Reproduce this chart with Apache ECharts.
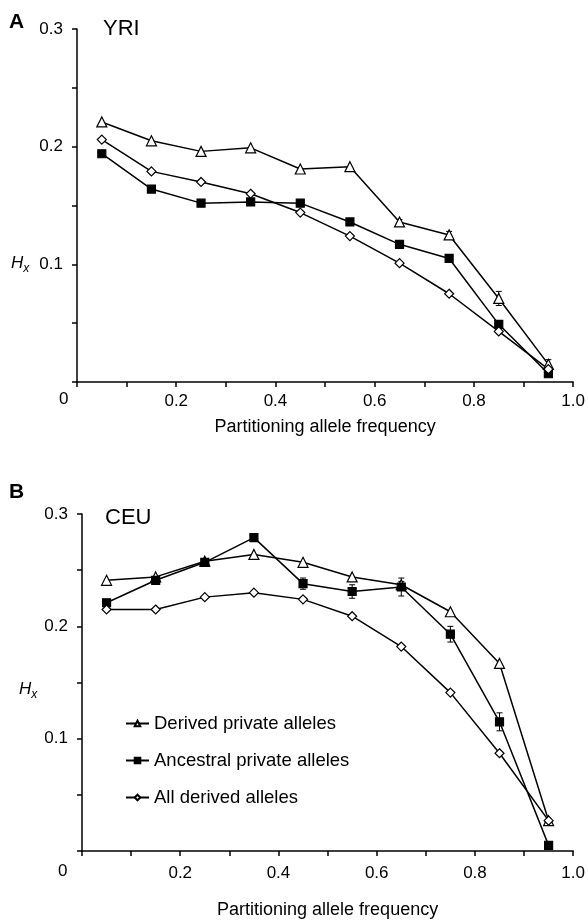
<!DOCTYPE html>
<html><head><meta charset="utf-8">
<script src="https://cdn.jsdelivr.net/npm/echarts@6/dist/echarts.min.js"></script>
<style>html,body{margin:0;padding:0;background:#fff}#c{width:588px;height:920px}</style>
</head><body><div id="c"></div>
<script>
const xVals = [0.05,0.15,0.25,0.35,0.45,0.55,0.65,0.75,0.85,0.95];
const xTickLabels = ['0.2','0.4','0.6','0.8','1.0'];
const seriesNames = ['Derived private alleles','Ancestral private alleles','All derived alleles'];
// Panel A (YRI)
const yriDerived   = [0.221,0.205,0.196,0.199,0.181,0.183,0.136,0.125,0.071,0.015];
const yriAncestral = [0.194,0.164,0.152,0.153,0.152,0.136,0.117,0.105,0.049,0.007];
const yriAll       = [0.206,0.179,0.170,0.160,0.144,0.124,0.101,0.075,0.043,0.011];
const yriDerivedErr   = [0,0,0,0,0,0,0.002,0.003,0.006,0.004];
const yriAncestralErr = [0,0,0,0,0,0,0,0,0.002,0.002];
// Panel B (CEU)
const ceuDerived   = [0.241,0.244,0.258,0.264,0.257,0.244,0.237,0.213,0.167,0.027];
const ceuAncestral = [0.221,0.241,0.257,0.279,0.238,0.231,0.235,0.193,0.115,0.005];
const ceuAll       = [0.215,0.215,0.226,0.230,0.224,0.209,0.182,0.141,0.087,0.027];
const ceuDerivedErr   = [0,0,0,0,0,0,0.003,0,0,0];
const ceuAncestralErr = [0,0,0,0,0.005,0.006,0.008,0.007,0.008,0];

const chart = echarts.init(document.getElementById('c'));
const FONT = 'Liberation Sans, Arial, sans-serif';
const pts = a => xVals.map((x,i)=>[x,a[i]]);
const errPts = (a,e) => xVals.map((x,i)=>[x,a[i],e[i]]).filter(d=>d[2]>0);

function xAxis(gi,margin,nameGap){
  return {gridIndex:gi,type:'value',min:0,max:1,interval:0.1,
    axisLine:{lineStyle:{color:'#000',width:1.5}},
    axisTick:{inside:false,length:5,lineStyle:{color:'#000',width:1.5}},
    splitLine:{show:false},
    axisLabel:{color:'#000',fontSize:17,fontFamily:FONT,margin:margin,
      formatter:v=>{const k=Math.round(v*10); if(k>0 && k%2===0) return xTickLabels[k/2-1]; return '';}},
    name:'Partitioning allele frequency',nameLocation:'middle',nameGap:nameGap,
    nameTextStyle:{color:'#000',fontSize:18,fontFamily:FONT}};
}
function yAxis(gi){
  return {gridIndex:gi,type:'value',min:0,max:0.3,interval:0.05,
    axisLine:{show:true,lineStyle:{color:'#000',width:1.5}},
    axisTick:{show:true,inside:false,length:5,lineStyle:{color:'#000',width:1.5}},
    splitLine:{show:false},
    axisLabel:{color:'#000',fontSize:17,fontFamily:FONT,margin:14,
      formatter:v=>{const k=Math.round(v*20); if(k>0 && k%2===0) return (k/20).toFixed(1); return '';}}};
}
function line(name,data,gi,sym,fill,size){
  return {name,type:'line',xAxisIndex:gi,yAxisIndex:gi,data:pts(data),
    symbol:sym,symbolSize:size,showSymbol:true,
    lineStyle:{color:'#000',width:1.5},
    itemStyle:{color:fill,borderColor:'#000',borderWidth:1.2},
    emphasis:{disabled:true},z:3};
}
function errSeries(data,err,gi){
  return {type:'custom',xAxisIndex:gi,yAxisIndex:gi,data:errPts(data,err),z:2,silent:true,
    renderItem:(params,api)=>{
      const x=api.value(0),y=api.value(1),e=api.value(2);
      const p1=api.coord([x,y+e]),p2=api.coord([x,y-e]);
      const w=3;
      return {type:'group',children:[
        {type:'line',shape:{x1:p1[0],y1:p1[1],x2:p2[0],y2:p2[1]},style:{stroke:'#000',lineWidth:1}},
        {type:'line',shape:{x1:p1[0]-w,y1:p1[1],x2:p1[0]+w,y2:p1[1]},style:{stroke:'#000',lineWidth:1}},
        {type:'line',shape:{x1:p2[0]-w,y1:p2[1],x2:p2[0]+w,y2:p2[1]},style:{stroke:'#000',lineWidth:1}}
      ]};
    }};
}
const hx = () => ({type:'text',style:{text:'{h|H}{s|x}',rich:{h:{fontStyle:'italic',fontSize:17,fontFamily:FONT,fill:'#000'},s:{fontStyle:'italic',fontSize:12,fontFamily:FONT,fill:'#000',padding:[10,0,0,0]}}}});
chart.setOption({
  animation:false,
  grid:[{left:77,top:29,width:498,height:353},{left:82,top:514,width:500,height:337}],
  xAxis:[xAxis(0,11,36),xAxis(1,14,50)],
  yAxis:[yAxis(0),yAxis(1)],
  legend:{show:true,orient:'vertical',left:120,top:709,itemGap:18,itemWidth:23,itemHeight:7,
    data:seriesNames,textStyle:{color:'#000',fontSize:18.5,fontFamily:FONT},selectedMode:false},
  series:[
    errSeries(yriDerived,yriDerivedErr,0),
    errSeries(yriAncestral,yriAncestralErr,0),
    line(seriesNames[0],yriDerived,0,'triangle','#fff',10),
    line(seriesNames[1],yriAncestral,0,'rect','#000',8),
    line(seriesNames[2],yriAll,0,'diamond','#fff',9),
    errSeries(ceuDerived,ceuDerivedErr,1),
    errSeries(ceuAncestral,ceuAncestralErr,1),
    line(seriesNames[0],ceuDerived,1,'triangle','#fff',10),
    line(seriesNames[1],ceuAncestral,1,'rect','#000',8),
    line(seriesNames[2],ceuAll,1,'diamond','#fff',9)
  ],
  graphic:[
    {type:'text',left:9,top:12,style:{text:'A',fontSize:21,fontWeight:'bold',fontFamily:FONT,fill:'#000'}},
    {type:'text',left:103,top:18,style:{text:'YRI',fontSize:22,fontFamily:FONT,fill:'#000'}},
    Object.assign({left:11,top:255},hx()),
    {type:'text',left:59,top:391,style:{text:'0',fontSize:17,fontFamily:FONT,fill:'#000'}},
    {type:'text',left:9,top:482,style:{text:'B',fontSize:21,fontWeight:'bold',fontFamily:FONT,fill:'#000'}},
    {type:'text',left:105,top:507,style:{text:'CEU',fontSize:22,fontFamily:FONT,fill:'#000'}},
    Object.assign({left:19,top:681},hx()),
    {type:'text',left:58,top:863,style:{text:'0',fontSize:17,fontFamily:FONT,fill:'#000'}}
  ]
});
</script></body></html>
